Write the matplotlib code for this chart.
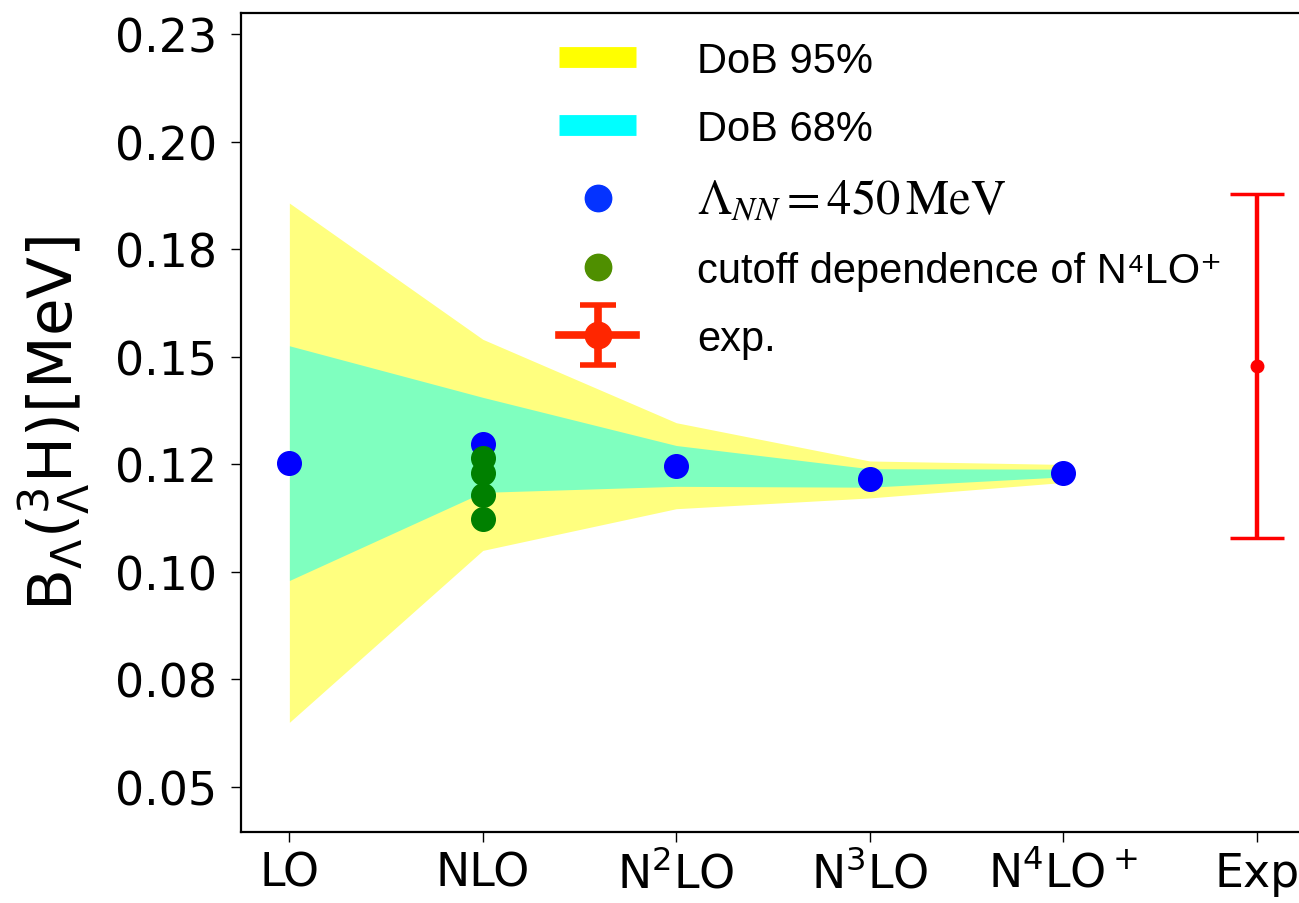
import matplotlib
matplotlib.use('Agg')
import matplotlib.pyplot as plt
from matplotlib.lines import Line2D
from matplotlib.collections import LineCollection
from matplotlib.container import ErrorbarContainer
from matplotlib.legend_handler import HandlerErrorbar

# chiral orders and Lambda binding energy of the hypertriton
orders = ['LO', 'NLO', r'N$^2$LO', r'N$^3$LO', r'N$^4$LO$^+$', 'Exp']
xpos = [0, 1, 2, 3, 4]
b_450 = [0.1254, 0.1297, 0.1247, 0.1216, 0.1230]

# degree-of-belief bands
band95_lo = [0.0650, 0.1050, 0.1147, 0.1172, 0.1208]
band95_hi = [0.1858, 0.1541, 0.1347, 0.1258, 0.1250]
band68_lo = [0.0980, 0.1185, 0.1199, 0.1197, 0.1221]
band68_hi = [0.1526, 0.1406, 0.1294, 0.1240, 0.1239]

# different NN cutoffs, all at NLO position
cutoff_x = [1, 1, 1, 1]
cutoff_b = [0.1266, 0.1229, 0.1178, 0.1122]

exp_x = 5
exp_b = 0.148
exp_err = 0.040

yticks = [0.050, 0.075, 0.100, 0.125, 0.150, 0.175, 0.200, 0.225]
ytick_labels = ['0.05', '0.08', '0.10', '0.12', '0.15', '0.18', '0.20', '0.23']

fig = plt.figure(figsize=(12.99, 9.04), dpi=100)
W, H = 1299, 904
# axes run past the right edge of the figure
ax = fig.add_axes([241 / W, 71 / H, (1325 - 241) / W, (833 - 14) / H])

ax.fill_between(xpos, band95_lo, band95_hi, color='yellow', alpha=0.5, lw=0)
ax.fill_between(xpos, band68_lo, band68_hi, color='cyan', alpha=0.5, lw=0)
ax.plot(xpos, b_450, 'o', color='blue', ms=17)
ax.plot(cutoff_x, cutoff_b, 'o', color='green', ms=17)
ax.errorbar([exp_x], [exp_b], yerr=[exp_err], fmt='o', color='red',
            ms=9, elinewidth=3.2, capsize=19.5, capthick=2.5)

ax.set_xlim(-0.25, 5.25 + 20 / 193.45)
ax.set_ylim(0.0395, 0.2300)
ax.set_xticks(range(len(orders)))
ax.set_xticklabels(orders)
ax.set_yticks(yticks)
ax.set_yticklabels(ytick_labels)
ax.tick_params(axis='both', labelsize=33, length=7.5, width=1, pad=10)
ax.tick_params(axis='x', pad=6)
for s in ax.spines.values():
    s.set_linewidth(1.6)

ax.set_ylabel(r'B$_\Lambda$($^3_\Lambda$H)[MeV]', fontsize=44)
ax.yaxis.set_label_coords(-0.137, 0.5)

# legend uses its own proxy handles
h95 = Line2D([], [], color='#ffff00', lw=15, solid_capstyle='butt')
h68 = Line2D([], [], color='#00ffff', lw=15, solid_capstyle='butt')
hb = Line2D([], [], ls='none', marker='o', ms=19, color='#0433ff')
hg = Line2D([], [], ls='none', marker='o', ms=19, color='#4f8f00')
exp_line = Line2D([], [], color='#ff2600', marker='o', ms=19, lw=5.5)
exp_cap = Line2D([], [], color='#ff2600', marker='_', ms=26.5, mew=4, ls='none')
exp_bar = LineCollection([], colors='#ff2600', linewidths=5.5)
hexp = ErrorbarContainer((exp_line, (exp_cap,), (exp_bar,)),
                         has_xerr=False, has_yerr=True)
labels = ['DoB 95%', 'DoB 68%', r'$\Lambda_{NN} = 450\,\mathrm{MeV}$',
          'cutoff dependence of N⁴LO⁺', 'exp.']
leg = ax.legend([h95, h68, hb, hg, hexp], labels,
                loc='upper left', bbox_to_anchor=(559 / W, 1 - 42 / H),
                bbox_transform=fig.transFigure, frameon=False,
                prop={'family': ['Liberation Sans', 'DejaVu Sans'], 'size': 30},
                handlelength=1.85, handletextpad=1.46, labelspacing=0.67,
                borderpad=0, borderaxespad=0,
                handler_map={ErrorbarContainer: HandlerErrorbar(yerr_size=0.72)})
leg.get_texts()[2].set_math_fontfamily('stix')
leg.get_texts()[2].set_fontsize(35)

fig.savefig('out.png', dpi=100)
